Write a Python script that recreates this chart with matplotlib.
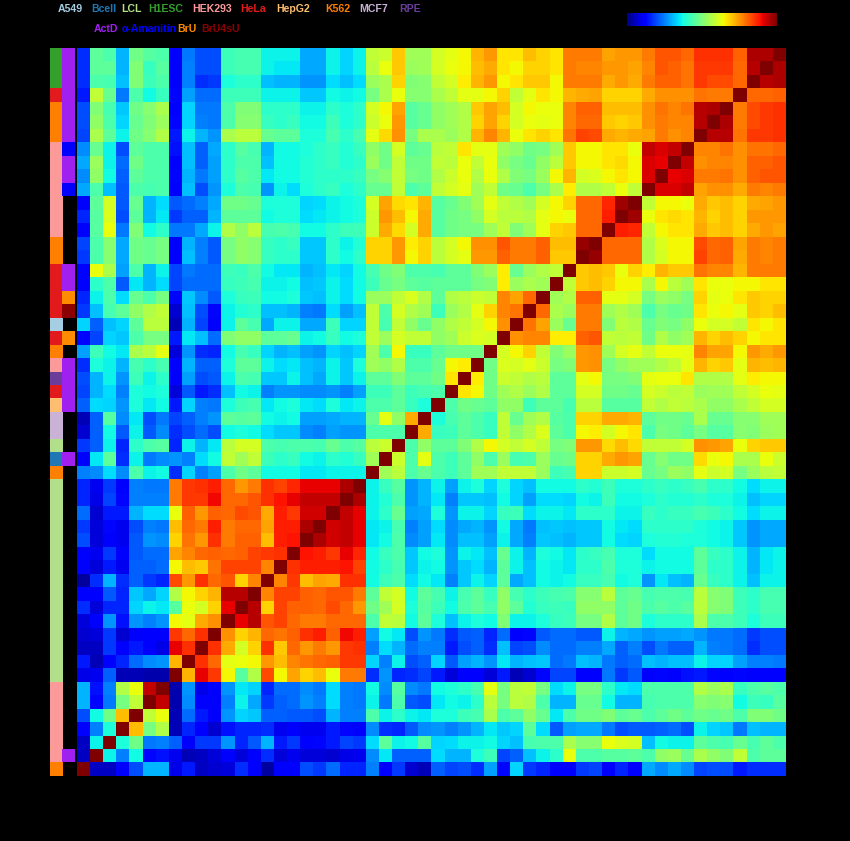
import matplotlib
matplotlib.use('Agg')
import matplotlib.pyplot as plt
import numpy as np
from matplotlib.colors import ListedColormap

W = 850.0
H = 841.0

# legend names and colours
line_names = ['A549', 'Bcell', 'LCL', 'H1ESC', 'HEK293', 'HeLa', 'HepG2', 'K562', 'MCF7', 'RPE']
line_colors = ['#a6cee3', '#1f78b4', '#b2df8a', '#33a02c', '#fb9a99', '#e31a1c', '#fdbf6f', '#ff7f00', '#cab2d6', '#6a3d9a']
treat_names = ['ActD', 'α-Amanitin', 'BrU', 'BrU4sU']
treat_colors = ['#a020f0', '#0000ff', '#ff8c00', '#8b0000']

# side bars, one entry per row from the top
row_line = ['H1ESC'] * 3 + ['HeLa'] + ['K562'] * 3 + ['HEK293'] * 7 + ['K562'] * 2 + ['HeLa'] * 4 + \
    ['A549', 'HeLa', 'K562', 'HEK293', 'RPE', 'HeLa', 'HepG2', 'MCF7', 'MCF7', 'LCL', 'Bcell', 'K562'] + \
    ['LCL'] * 15 + ['HEK293'] * 6 + ['K562']
row_treat = ['ActD'] * 7 + ['α-Amanitin', 'ActD', 'ActD', 'α-Amanitin'] + [None] * 5 + \
    ['ActD', 'ActD', 'BrU', 'BrU4sU', None, 'BrU', None, 'ActD', 'ActD', 'ActD', 'ActD', None, None, None, 'ActD'] + \
    [None] * 21 + ['ActD', None]

# correlation matrix, upper left triangle, rows from the top, read on a 0-99 scale
rows = [
    [17,46,44,30,48,45,44,12,24,20,20,42,43,43,36,36,36,29,29,36,33,36,58,59,69,54,54,60,62,64,71,74,66,66,70,68,66,77,77,77,73,74,74,77,81,81,79,85,85,85,80,95,95,99],
    [17,46,46,30,50,41,45,12,25,20,20,42,43,43,36,35,35,29,29,36,33,36,57,63,69,53,54,60,63,64,70,72,66,64,68,68,66,77,76,76,74,74,73,76,81,80,78,84,84,84,79,94,99],
    [17,44,43,31,50,42,44,11,25,17,18,38,40,40,31,30,30,27,27,34,31,34,53,55,68,50,51,58,60,65,71,74,64,66,69,69,64,77,77,77,72,74,72,77,80,80,78,84,82,82,79,99],
    [15,58,47,24,44,37,41,13,28,23,23,42,42,42,36,36,36,32,32,37,36,37,49,55,63,51,51,55,58,62,62,64,68,58,62,66,64,71,72,73,68,68,68,72,75,75,75,78,77,77,99],
    [20,50,43,32,48,51,55,12,33,24,24,44,50,50,40,40,40,36,36,40,38,40,60,64,73,45,47,52,54,56,69,73,70,60,64,63,63,76,80,80,70,70,70,75,78,76,78,94,95,99],
    [20,52,44,33,47,50,53,13,33,25,24,44,51,51,41,40,41,37,37,42,38,40,59,63,74,45,47,52,54,56,68,73,68,60,63,62,63,76,79,79,69,68,69,75,77,76,76,94,99],
    [19,55,46,36,48,51,56,15,36,30,27,55,57,57,47,46,46,38,38,43,40,43,62,67,75,49,55,55,53,56,71,76,71,63,66,68,66,78,83,82,72,71,72,73,77,75,76,99],
    [26,47,36,20,46,44,44,14,31,22,29,40,45,43,30,37,37,38,40,41,39,41,52,48,60,46,47,57,58,66,62,62,54,52,48,49,54,69,64,64,66,66,63,93,91,93,99],
    [29,53,36,23,48,44,44,11,31,22,28,40,44,44,31,37,37,39,40,41,39,40,53,48,58,48,48,58,57,63,58,63,52,49,47,52,57,69,64,64,66,67,64,91,90,99],
    [26,52,37,22,46,44,44,13,30,24,28,40,45,44,35,37,37,39,40,40,40,41,49,51,58,49,48,56,59,63,56,63,56,50,49,53,64,71,60,61,64,66,64,91,99],
    [29,44,31,21,44,43,44,12,31,20,27,38,44,43,27,36,34,38,40,41,38,40,47,47,58,44,46,58,60,62,54,58,48,47,44,49,55,65,56,56,58,63,58,99],
    [12,46,60,21,47,30,34,21,23,25,29,48,48,47,38,38,38,33,34,36,37,38,60,73,67,66,71,45,47,50,54,62,58,56,54,60,64,68,79,79,86,96,99],
    [16,45,61,20,46,30,35,18,22,22,30,46,46,46,37,38,38,34,35,36,37,38,59,74,70,64,72,45,48,49,52,60,57,57,56,62,64,63,79,79,87,99],
    [11,45,63,24,50,37,40,24,24,29,36,56,52,57,43,44,43,37,37,40,42,42,59,72,67,60,72,45,48,49,49,54,58,50,54,62,68,69,79,79,99],
    [19,44,51,29,48,47,49,12,30,25,21,49,52,51,41,40,41,32,32,40,36,39,68,68,74,65,68,57,60,64,75,75,81,77,77,80,70,70,97,99],
    [18,44,51,29,48,47,49,12,31,25,21,49,52,51,41,40,40,32,32,40,37,40,68,68,74,64,68,57,60,62,74,74,80,77,77,80,69,69,99],
    [12,63,55,28,44,30,36,19,24,23,23,42,41,44,37,35,35,30,31,35,33,37,43,48,50,44,44,43,46,46,50,53,65,47,53,56,58,99],
    [12,40,44,21,35,30,34,19,23,23,23,41,42,43,36,36,37,31,32,36,34,37,42,47,49,46,45,46,46,46,49,50,65,53,55,54,99],
    [16,36,44,34,47,44,49,13,32,26,21,38,41,42,37,37,38,32,31,36,34,37,53,53,58,61,56,46,56,57,59,58,76,73,79,99],
    [18,31,43,46,52,56,58,7,31,20,13,36,39,40,31,31,30,25,24,34,28,31,58,44,60,56,54,42,53,56,62,68,76,78,99],
    [33,22,31,33,46,57,57,5,30,19,12,36,46,43,29,36,36,29,29,42,33,33,58,43,58,52,47,52,56,58,60,64,75,99],
    [13,19,33,32,44,49,49,15,35,31,23,50,52,52,46,46,47,36,37,41,37,38,58,53,60,58,58,52,54,59,61,60,99],
    [28,42,37,35,55,57,62,8,27,17,16,37,43,41,33,30,31,28,27,33,31,33,54,44,64,41,41,46,48,48,48,99],
    [17,38,36,30,43,40,43,12,30,22,22,38,46,46,36,34,35,31,30,36,32,38,54,52,56,44,44,47,64,65,99],
    [20,30,36,27,42,36,40,11,28,20,21,36,44,43,32,32,36,31,29,36,32,36,46,46,50,46,46,48,66,99],
    [19,30,34,25,38,37,38,8,21,15,17,31,37,36,25,27,27,26,26,27,25,28,42,42,46,42,43,44,99],
    [22,34,33,27,38,35,37,15,33,25,24,38,42,43,35,37,38,35,34,38,35,36,44,44,46,41,38,99],
    [5,22,45,26,35,20,24,19,22,25,27,46,45,46,37,36,37,28,28,29,30,30,47,62,52,72,99],
    [7,22,37,21,36,21,26,17,20,23,20,37,38,37,34,32,32,26,25,28,27,27,44,44,44,99],
    [18,22,36,16,40,44,45,16,36,30,35,57,60,60,44,43,44,44,43,47,44,45,57,59,99],
    [12,35,46,17,36,24,26,27,25,34,37,58,54,58,42,40,41,37,36,40,39,41,54,99],
    [25,26,34,26,44,36,37,17,33,25,28,44,48,46,37,37,37,35,35,36,36,36,99],
    [16,10,18,12,25,24,24,77,84,85,87,79,74,77,85,83,86,90,90,90,95,99],
    [16,9,19,13,25,25,25,77,84,84,89,79,79,81,85,88,90,93,93,93,99],
    [23,7,15,15,30,34,34,63,80,74,80,79,82,81,72,87,84,92,92,99],
    [18,8,13,10,20,25,24,70,79,77,87,77,79,79,73,87,87,95,99],
    [20,8,12,10,21,27,26,68,78,74,85,77,80,80,70,87,88,99],
    [12,10,18,11,21,23,23,73,76,79,80,79,80,83,84,85,99],
    [11,8,15,10,22,22,23,64,70,69,78,83,83,83,76,99],
    [3,17,30,17,22,18,16,82,74,85,79,81,68,76,99],
    [12,11,21,16,32,29,33,56,64,68,71,94,94,99],
    [17,8,16,16,33,36,35,45,63,60,68,90,99],
    [8,11,27,14,27,25,27,64,62,72,75,99],
    [7,8,18,7,12,11,11,84,79,85,99],
    [6,6,18,11,15,11,9,90,85,99],
    [15,5,11,16,23,26,27,71,99],
    [9,10,22,5,5,4,4,99],
    [30,14,25,56,63,93,99],
    [30,13,24,49,58,99],
    [20,37,48,70,99],
    [12,25,38,99],
    [6,36,99],
    [6,99],
    [99],
]

n = len(rows)
mat = np.zeros((n, n))
for r, row in enumerate(rows):
    assert len(row) == n - r, (r, len(row))
    for c, v in enumerate(row):
        mat[r, c] = v
        # the matrix mirrors across the diagonal running bottom left to top right
        mat[n - 1 - c, n - 1 - r] = v


def box(x0, y0, x1, y1):
    return [x0 / W, 1 - y1 / H, (x1 - x0) / W, (y1 - y0) / H]


fig = plt.figure(figsize=(W / 100, H / 100), dpi=100, facecolor='black')

ax = fig.add_axes(box(77, 48, 786, 776))
im = ax.imshow(mat, cmap='jet', vmin=0, vmax=99, aspect='auto', interpolation='nearest')
ax.axis('off')

# side bars
ax_line = fig.add_axes(box(49.7, 48, 62, 776))
idx = [[line_names.index(v)] for v in row_line]
ax_line.imshow(idx, cmap=ListedColormap(line_colors), vmin=0, vmax=len(line_names) - 1,
               aspect='auto', interpolation='nearest')
ax_line.axis('off')

ax_treat = fig.add_axes(box(62, 48, 75, 776))
idx = np.ma.masked_invalid([[treat_names.index(v) if v else np.nan] for v in row_treat])
ax_treat.imshow(idx, cmap=ListedColormap(treat_colors), vmin=0, vmax=len(treat_names) - 1,
                aspect='auto', interpolation='nearest')
ax_treat.axis('off')

# colour bar, top right
cax = fig.add_axes(box(626.7, 13.3, 776.7, 25.7))
cb = fig.colorbar(im, cax=cax, orientation='horizontal')
cb.set_ticks([])
cb.outline.set_visible(False)

# legend words
line_x = [58, 91, 121, 148, 192, 240, 276, 325, 359, 399]
treat_x = [94, 122, 177, 201]
for name, col, x in zip(line_names, line_colors, line_x):
    fig.text(x / W, 1 - 9 / H, name, color=col, fontsize=7.6, weight='bold', family='Liberation Sans', va='center')
for name, col, x in zip(treat_names, treat_colors, treat_x):
    fig.text(x / W, 1 - 29 / H, name, color=col, fontsize=7.6, weight='bold', family='Liberation Sans', va='center')

fig.savefig('out.png', dpi=100, facecolor='black')
